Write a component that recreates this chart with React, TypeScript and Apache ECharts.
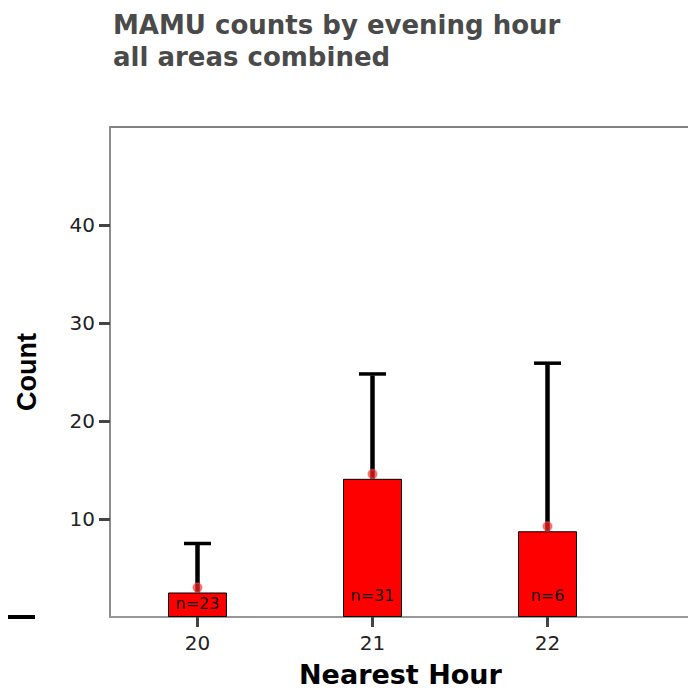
import React, { useEffect, useRef } from "react";
import * as echarts from "echarts";

const hours = ["20", "21", "22", ""];
const barValues = [2.5, 14.1, 8.75];
const upperValues = [7.5, 24.8, 25.9];
const meanValues = [3.0, 14.6, 9.25];
const nLabels = ["n=23", "n=31", "n=6"];
const yTicks = [10, 20, 30, 40];

const ARIAL = "'Liberation Sans', Arial, sans-serif";
const DEJAVU = "'DejaVu Sans', sans-serif";

export default function App() {
  const ref = useRef<HTMLDivElement>(null);
  useEffect(() => {
    if (!ref.current) return;
    const chart = echarts.init(ref.current, null, { renderer: "svg" });
    const option = {
      animation: false,
      backgroundColor: "#ffffff",
      title: {
        text: "MAMU counts by evening hour\nall areas combined",
        left: 108,
        top: 4,
        textStyle: {
          fontFamily: DEJAVU,
          fontWeight: "bold",
          fontSize: 26,
          lineHeight: 32,
          color: "#4a4a4a",
        },
      },
      grid: {
        left: 110,
        top: 127,
        width: 700,
        height: 490,
        show: true,
        borderColor: "#5a5a5a",
        borderWidth: 1.5,
        backgroundColor: "transparent",
      },
      xAxis: {
        type: "category",
        data: hours,
        axisLine: { show: true, lineStyle: { color: "#a0a0a0", width: 1.5 } },
        axisTick: {
          show: true,
          alignWithLabel: true,
          length: 10,
          interval: (i: number) => i < 3,
          lineStyle: { color: "#444", width: 3 },
        },
        axisLabel: {
          margin: 16,
          fontFamily: DEJAVU,
          fontSize: 20,
          color: "#222",
        },
        splitLine: { show: false },
      },
      yAxis: {
        type: "value",
        min: 0,
        max: 50,
        interval: 10,
        name: "Count",
        nameLocation: "middle",
        nameGap: 70,
        nameRotate: 90,
        nameTextStyle: {
          fontFamily: ARIAL,
          fontWeight: "bold",
          fontSize: 27,
          color: "#000",
        },
        axisLine: { show: true, lineStyle: { color: "#909090", width: 1.5 } },
        axisTick: {
          show: true,
          length: 11,
          customValues: yTicks,
          lineStyle: { color: "#444", width: 3 },
        },
        axisLabel: {
          margin: 15,
          customValues: yTicks,
          fontFamily: DEJAVU,
          fontSize: 20,
          color: "#222",
          padding: [6, 0, 0, 0],
        },
        splitLine: { show: false },
      },
      graphic: [
        {
          type: "text",
          left: 401 - 102,
          top: 661,
          style: {
            text: "Nearest Hour",
            fontFamily: DEJAVU,
            fontWeight: "bold",
            fontSize: 27,
            fill: "#000",
          },
        },
        {
          type: "rect",
          left: 8,
          top: 615,
          shape: { width: 27, height: 4 },
          style: { fill: "#000" },
        },
      ],
      series: [
        {
          type: "bar",
          barWidth: 59,
          data: barValues.map((v, i) => ({
            value: v,
            label: {
              show: true,
              position: "insideBottom",
              distance: i === 0 ? 6 : 14,
              formatter: nLabels[i],
              fontFamily: DEJAVU,
              fontSize: 16,
              color: "#111",
            },
          })),
          itemStyle: { color: "#ff0000", borderColor: "#000", borderWidth: 1 },
          z: 2,
        },
        {
          type: "custom",
          data: barValues.map((v, i) => [i, v, upperValues[i]]),
          encode: { x: 0, y: [1, 2] },
          renderItem: (params: any, api: any) => {
            const idx = api.value(0);
            const low = api.coord([idx, api.value(1)]);
            const high = api.coord([idx, api.value(2)]);
            return {
              type: "group",
              children: [
                {
                  type: "line",
                  shape: { x1: low[0], y1: low[1], x2: high[0], y2: high[1] + 1.5 },
                  style: { stroke: "#000", lineWidth: 4.5 },
                },
                {
                  type: "line",
                  shape: { x1: high[0] - 13.5, y1: high[1], x2: high[0] + 13.5, y2: high[1] },
                  style: { stroke: "#000", lineWidth: 3.5 },
                },
              ],
            };
          },
          z: 3,
        },
        {
          type: "scatter",
          data: meanValues.map((v, i) => [i, v]),
          symbol: "circle",
          symbolSize: 9,
          itemStyle: {
            color: "rgba(255,40,40,0.85)",
            borderColor: "rgba(255,90,90,0.6)",
            borderWidth: 1.5,
          },
          z: 4,
        },
      ],
    };
    chart.setOption(option as any);
    return () => chart.dispose();
  }, []);
  return (
    <div
      ref={ref}
      style={{ position: "fixed", left: 0, top: 0, width: 830, height: 694 }}
    />
  );
}
